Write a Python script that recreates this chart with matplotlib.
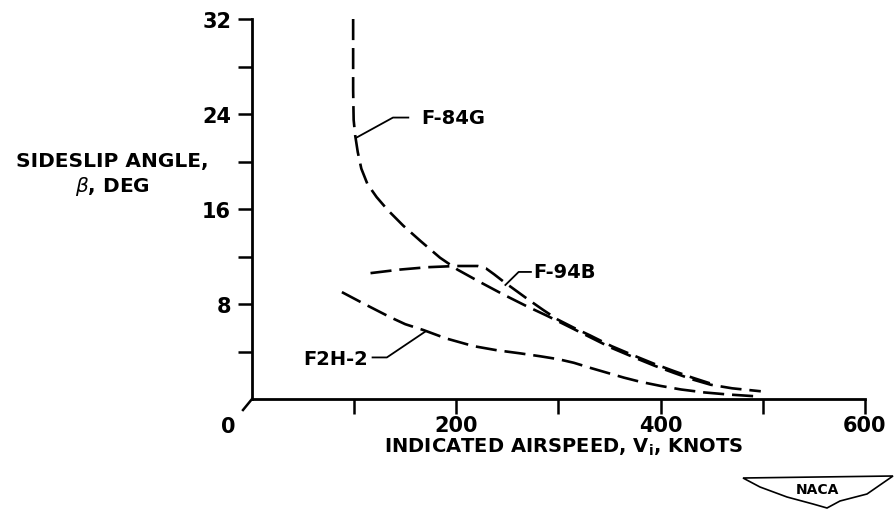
import numpy as np
import matplotlib.pyplot as plt
from matplotlib.lines import Line2D
from matplotlib.patches import Polygon

# values (knots, deg)
f84g_v = [99, 99, 99.5, 101, 103.5, 107, 113, 122, 133, 148, 165, 184, 201, 222, 246, 268, 289,
          310, 331, 352, 374, 394, 413, 431, 449, 470, 498]
f84g_beta = [32.0, 26.0, 23.5, 22.2, 20.8, 19.4, 18.1, 17.0, 15.9, 14.6, 13.3, 11.9, 10.9, 9.9, 8.8,
             7.85, 7.0, 6.1, 5.2, 4.3, 3.5, 2.8, 2.2, 1.65, 1.2, 0.9, 0.65]

f94b_v = [116, 145, 172, 200, 221, 229, 237, 246, 258, 270, 285, 299, 315, 331, 352, 374, 394, 413, 431, 449]
f94b_beta = [10.6, 10.9, 11.1, 11.2, 11.2, 11.0, 10.5, 9.9, 9.15, 8.4, 7.5, 6.7, 6.0, 5.35, 4.45,
             3.65, 2.95, 2.35, 1.8, 1.3]

f2h2_v = [88, 110, 135, 150, 168, 190, 217, 240, 262, 282, 300, 315, 332, 348, 364, 380, 400, 420, 443, 466, 498]
f2h2_beta = [9.0, 8.0, 6.9, 6.3, 5.8, 5.1, 4.45, 4.1, 3.85, 3.6, 3.35, 3.05, 2.6, 2.2, 1.8, 1.45,
             1.1, 0.8, 0.55, 0.38, 0.2]

# leader lines for the curve labels
lead_84_v, lead_84_b = [102, 138, 153], [22.0, 23.7, 23.7]
lead_94_v, lead_94_b = [248, 261, 273], [9.6, 10.7, 10.7]
lead_2h_v, lead_2h_b = [170, 132, 118], [5.7, 3.5, 3.5]

x_ticks = [100, 200, 300, 400, 500, 600]
x_ticklabels = ['', '200', '', '400', '', '600']
y_ticks = [4, 8, 12, 16, 20, 24, 28, 32]
y_ticklabels = ['', '8', '', '16', '', '24', '', '32']

W, H = 895, 510
fig = plt.figure(figsize=(W / 100, H / 100), dpi=100)
ax = fig.add_axes([252 / W, 1 - 400 / H, (865 - 252) / W, (400 - 20) / H])

lw = 1.9
dash = (8, 3)
for v, b in [(f84g_v, f84g_beta), (f94b_v, f94b_beta), (f2h2_v, f2h2_beta)]:
    ax.plot(v, b, color='black', lw=lw, linestyle=(0, dash), solid_capstyle='butt')

for v, b in [(lead_84_v, lead_84_b), (lead_94_v, lead_94_b), (lead_2h_v, lead_2h_b)]:
    ax.plot(v, b, color='black', lw=1.3)

fs = 15
ax.text(166, 23.7, 'F-84G', fontsize=14, va='center', ha='left', fontweight='bold')
ax.text(275, 10.7, 'F-94B', fontsize=14, va='center', ha='left', fontweight='bold')
ax.text(114, 3.4, 'F2H-2', fontsize=14, va='center', ha='right', fontweight='bold')

ax.set_xlim(0, 600)
ax.set_ylim(0, 32)
ax.set_xticks(x_ticks)
ax.set_xticklabels(x_ticklabels)
ax.set_yticks(y_ticks)
ax.set_yticklabels(y_ticklabels)
ax.tick_params(axis='x', direction='out', length=11, width=1.8, labelsize=fs, pad=0.5)
ax.tick_params(axis='y', direction='out', length=10, width=1.8, labelsize=fs, pad=5)
for lab in ax.get_xticklabels() + ax.get_yticklabels():
    lab.set_fontweight('bold')
for side in ['top', 'right']:
    ax.spines[side].set_visible(False)
for side in ['left', 'bottom']:
    ax.spines[side].set_linewidth(2)

# origin mark and zero label
fig.add_artist(Line2D([252 / W, 243 / W], [1 - 400 / H, 1 - 411 / H], color='black', lw=1.8))
fig.text(228 / W, 1 - 427 / H, '0', fontsize=fs, fontweight='bold', ha='center', va='center')

fig.text(112 / W, 1 - 175 / H, 'SIDESLIP ANGLE,\n' + r'$\beta$' + ', DEG', fontsize=14.5,
         fontweight='bold', ha='center', va='center', multialignment='center', linespacing=1.2)
fig.text(564 / W, 1 - 447 / H, r'INDICATED AIRSPEED, V$_\mathregular{i}$, KNOTS', fontsize=14,
         fontweight='bold', ha='center', va='center')

# NACA wing emblem
wing_px = [(743, 479), (893, 477), (867, 495), (840, 502), (827, 509), (813, 505), (787, 498), (760, 488)]
fig.add_artist(Polygon([(x / W, 1 - y / H) for x, y in wing_px], closed=True, fill=False,
                       edgecolor='black', lw=1.2, transform=fig.transFigure))
fig.text(817 / W, 1 - 490 / H, 'NACA', fontsize=10, fontweight='bold', ha='center', va='center')

fig.savefig('out.png', dpi=100)
